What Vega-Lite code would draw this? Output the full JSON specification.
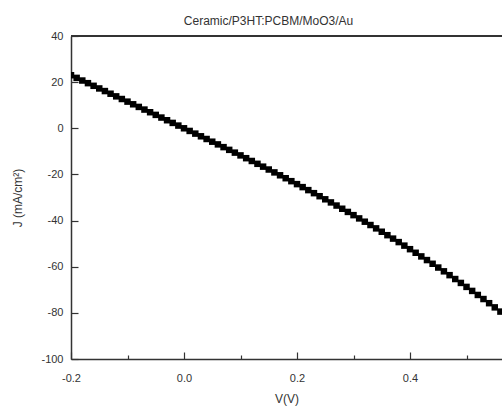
{
  "$schema": "https://vega.github.io/schema/vega-lite/v6.json",
  "autosize": "none",
  "width": 431,
  "height": 323,
  "padding": {"left": 71, "top": 36, "right": 0, "bottom": 51},
  "background": "white",
  "config": {"view": {"stroke": null}},
  "title": {"text": "Ceramic/P3HT:PCBM/MoO3/Au", "font": "Liberation Sans", "fontSize": 12, "fontWeight": "normal", "color": "#333", "offset": 2, "dx": -18},
  "data": {"values": [
    {"V": -0.20, "J": 23.0}, {"V": -0.19, "J": 21.85}, {"V": -0.18, "J": 20.7}, {"V": -0.17, "J": 19.56},
    {"V": -0.16, "J": 18.41}, {"V": -0.15, "J": 17.27}, {"V": -0.14, "J": 16.13}, {"V": -0.13, "J": 14.98},
    {"V": -0.12, "J": 13.84}, {"V": -0.11, "J": 12.69}, {"V": -0.10, "J": 11.55}, {"V": -0.09, "J": 10.4},
    {"V": -0.08, "J": 9.26}, {"V": -0.07, "J": 8.11}, {"V": -0.06, "J": 6.96}, {"V": -0.05, "J": 5.81},
    {"V": -0.04, "J": 4.65}, {"V": -0.03, "J": 3.49}, {"V": -0.02, "J": 2.33}, {"V": -0.01, "J": 1.17},
    {"V": 0.00, "J": 0}, {"V": 0.01, "J": -1.15}, {"V": 0.02, "J": -2.31}, {"V": 0.03, "J": -3.47},
    {"V": 0.04, "J": -4.64}, {"V": 0.05, "J": -5.81}, {"V": 0.06, "J": -6.98}, {"V": 0.07, "J": -8.17},
    {"V": 0.08, "J": -9.35}, {"V": 0.09, "J": -10.55}, {"V": 0.10, "J": -11.75}, {"V": 0.11, "J": -12.96},
    {"V": 0.12, "J": -14.17}, {"V": 0.13, "J": -15.4}, {"V": 0.14, "J": -16.63}, {"V": 0.15, "J": -17.87},
    {"V": 0.16, "J": -19.12}, {"V": 0.17, "J": -20.37}, {"V": 0.18, "J": -21.64}, {"V": 0.19, "J": -22.92},
    {"V": 0.20, "J": -24.2}, {"V": 0.21, "J": -25.5}, {"V": 0.22, "J": -26.8}, {"V": 0.23, "J": -28.12},
    {"V": 0.24, "J": -29.44}, {"V": 0.25, "J": -30.78}, {"V": 0.26, "J": -32.13}, {"V": 0.27, "J": -33.49},
    {"V": 0.28, "J": -34.87}, {"V": 0.29, "J": -36.25}, {"V": 0.30, "J": -37.65}, {"V": 0.31, "J": -39.06},
    {"V": 0.32, "J": -40.49}, {"V": 0.33, "J": -41.93}, {"V": 0.34, "J": -43.38}, {"V": 0.35, "J": -44.84},
    {"V": 0.36, "J": -46.33}, {"V": 0.37, "J": -47.82}, {"V": 0.38, "J": -49.33}, {"V": 0.39, "J": -50.86},
    {"V": 0.40, "J": -52.4}, {"V": 0.41, "J": -53.96}, {"V": 0.42, "J": -55.53}, {"V": 0.43, "J": -57.12},
    {"V": 0.44, "J": -58.73}, {"V": 0.45, "J": -60.36}, {"V": 0.46, "J": -62.0}, {"V": 0.47, "J": -63.66},
    {"V": 0.48, "J": -65.34}, {"V": 0.49, "J": -67.03}, {"V": 0.50, "J": -68.75}, {"V": 0.51, "J": -70.49},
    {"V": 0.52, "J": -72.24}, {"V": 0.53, "J": -74.01}, {"V": 0.54, "J": -75.81}, {"V": 0.55, "J": -77.62},
    {"V": 0.56, "J": -79.45}, {"V": 0.57, "J": -81.3}
  ]},
  "layer": [
    {
      "mark": {"type": "rule", "color": "#333", "strokeWidth": 1.5},
      "encoding": {"y": {"datum": 40, "type": "quantitative"}}
    },
    {
      "mark": {"type": "point", "shape": "square", "filled": true, "color": "black", "size": 42, "opacity": 1, "clip": true},
      "encoding": {
        "x": {"field": "V", "type": "quantitative",
          "scale": {"domain": [-0.2, 0.5628], "nice": false, "zero": false},
          "axis": {"title": "V(V)", "values": [-0.2, -0.1, 0.0, 0.1, 0.2, 0.3, 0.4, 0.5],
            "labelExpr": "(round(datum.value*10) % 2 == 0) ? replace(format(datum.value, '.1f'), '\u2212', '-') : ''",
            "grid": false,
            "tickSize": {"condition": {"test": "round(datum.value*10) % 2 == 0", "value": -7}, "value": -4},
            "labelPadding": 20, "domainColor": "#333", "domainWidth": 1.5,
            "tickColor": "#333", "tickWidth": 1.2, "labelFont": "Liberation Sans", "labelFontSize": 11, "labelColor": "#333",
            "titleFont": "Liberation Sans", "titleFontSize": 12, "titleFontWeight": "normal", "titleColor": "#333", "titlePadding": 10,
            "labelFlush": false}},
        "y": {"field": "J", "type": "quantitative",
          "scale": {"domain": [-100, 40], "nice": false, "zero": false},
          "axis": {"title": "J (mA/cm²)", "values": [-100, -90, -80, -70, -60, -50, -40, -30, -20, -10, 0, 10, 20, 30, 40],
            "labelExpr": "(datum.value % 20 == 0) ? ('' + datum.value) : ''",
            "grid": false,
            "tickSize": {"condition": {"test": "datum.value % 20 == 0", "value": -7}, "value": -4},
            "labelPadding": 15, "domainColor": "#333", "domainWidth": 1.5,
            "tickColor": "#333", "tickWidth": 1.2, "labelFont": "Liberation Sans", "labelFontSize": 11, "labelColor": "#333",
            "titleFont": "Liberation Sans", "titleFontSize": 12, "titleFontWeight": "normal", "titleColor": "#333", "titlePadding": 16,
            "labelFlush": false}}
      }
    }
  ]
}
